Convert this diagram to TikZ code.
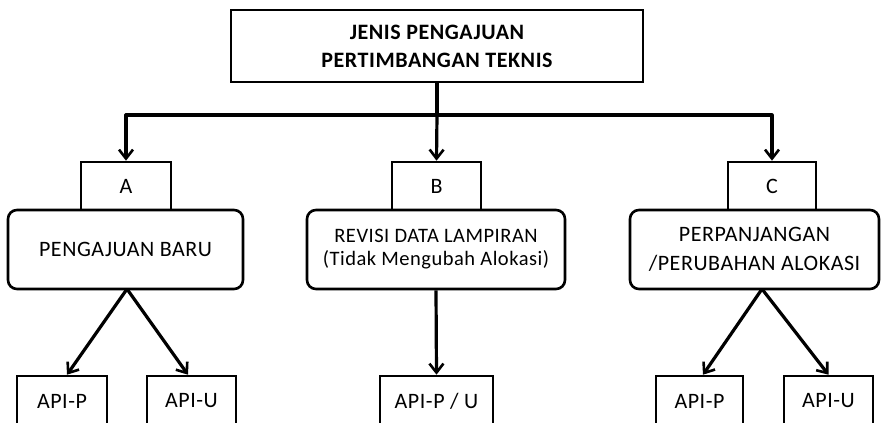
\documentclass[tikz,border=0pt]{standalone}
\usepackage{fontspec}
\setmainfont{Carlito}[LetterSpace=2.5]
\usetikzlibrary{arrows.meta}
\begin{document}
\begin{tikzpicture}[x=1pt,y=-1pt,
  box/.style={draw,line width=2.6pt,inner sep=0pt,align=center,font=\fontsize{22}{28}\selectfont},
  rbox/.style={box,rounded corners=9pt},
  conn/.style={line width=3.2pt,-{Straight Barb[length=9pt,width=14pt,line width=2.6pt]}}
]
\useasboundingbox (0,0) rectangle (881,423);
\clip (0,0) rectangle (881,423);
% top
\node[box,minimum width=412pt,minimum height=72pt,font=\bfseries\fontsize{22}{28}\selectfont] (top) at (437,46) {JENIS PENGAJUAN\\PERTIMBANGAN TEKNIS};
% letter boxes
\node[box,minimum width=90pt,minimum height=48pt] (A) at (126,186) {A};
\node[box,minimum width=89pt,minimum height=48pt] (B) at (436.5,186) {B};
\node[box,minimum width=88pt,minimum height=48pt] (C) at (772,186) {C};
% rounded boxes
\node[rbox,minimum width=235pt,minimum height=79pt] (ra) at (125.5,249.5) {PENGAJUAN BARU};
\node[rbox,minimum width=258pt,minimum height=79pt,font=\fontsize{20.5}{23}\selectfont] (rb) at (436,249.5) {REVISI DATA LAMPIRAN\\(Tidak Mengubah Alokasi)};
\node[rbox,minimum width=249pt,minimum height=79pt,font=\fontsize{22}{29}\selectfont] (rc) at (754.5,249.5) {PERPANJANGAN\\/PERUBAHAN ALOKASI};
% bottom boxes
\node[box,minimum width=90pt,minimum height=50pt] (pa) at (62,401) {API-P};
\node[box,minimum width=89pt,minimum height=50pt] (ua) at (191.5,401) {API-U};
\node[box,minimum width=113pt,minimum height=50pt] (pub) at (436.5,401) {API-P / U};
\node[box,minimum width=87pt,minimum height=50pt] (pc) at (699.5,401) {API-P};
\node[box,minimum width=89pt,minimum height=50pt] (uc) at (828.5,401) {API-U};
% connectors
\coordinate (hub) at (top.south |- 0,115);
\coordinate (hl) at (A.north |- hub);
\coordinate (hr) at (C.north |- hub);
\draw[line width=3.2pt] (top.south) -- (hub);
\draw[line width=3.2pt,line join=round] (A.north |- 0,130) -- (hl) -- (hr) -- (C.north |- 0,130);
\draw[conn] (hl) -- (A.north);
\draw[conn] (hub) -- (B.north);
\draw[conn] (hr) -- (C.north);
\coordinate (sa) at (127,289);
\coordinate (sc) at (762,289);
\draw[conn] (sa) -- ([xshift=5pt]pa.north);
\draw[conn] (sa) -- ([xshift=-3.5pt]ua.north);
\draw[conn] (rb.south) -- (pub.north);
\draw[conn] (sc) -- ([xshift=3.5pt]pc.north);
\draw[conn] (sc) -- (uc.north);
\end{tikzpicture}
\end{document}
